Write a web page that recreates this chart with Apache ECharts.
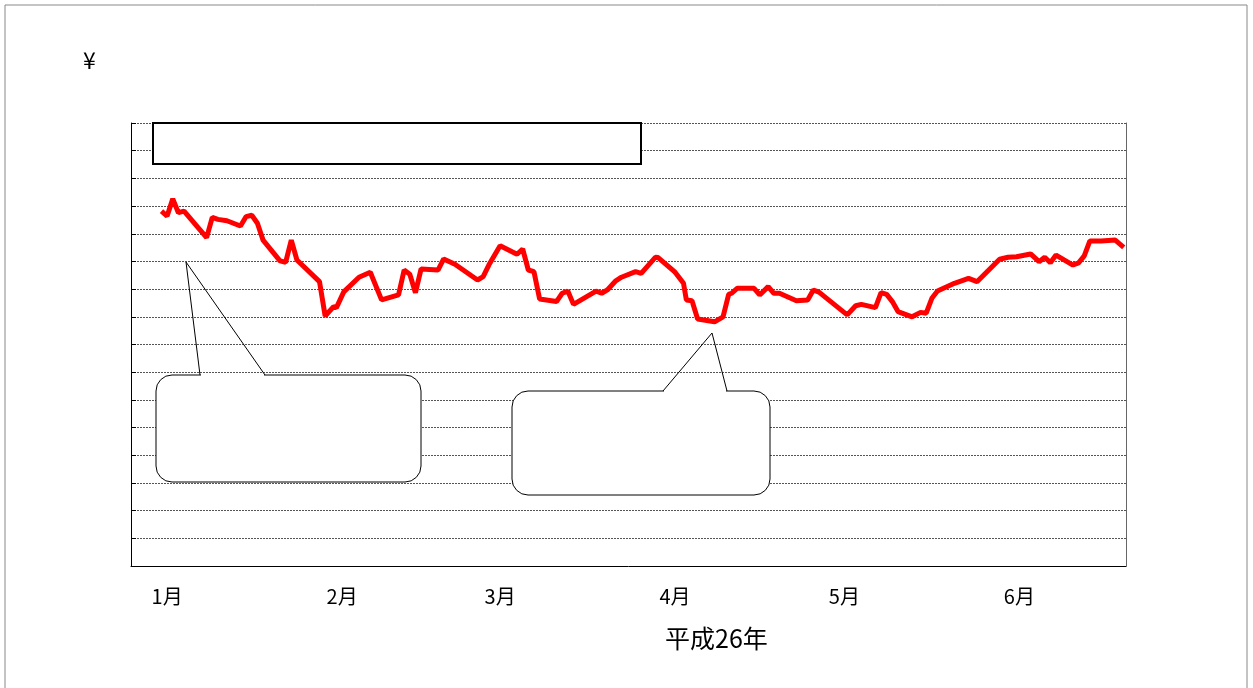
<!DOCTYPE html>
<html>
<head>
<meta charset="utf-8">
<style>
  html, body { margin: 0; padding: 0; background: #fff; }
  #chart { width: 1253px; height: 688px; }
</style>
<script src="https://cdn.jsdelivr.net/npm/echarts@6/dist/echarts.min.js"></script>
</head>
<body>
<div id="chart"></div>
<script>
// 日付（1月1日からの日数）
var days = [-1, 0, 1, 2, 3, 7, 8, 9, 10.6, 13, 14, 15, 16, 17, 20, 21, 22, 23, 27, 28,
  29.5, 30, 31.3, 34, 36, 38, 41, 42, 43, 44, 45, 48, 49, 51, 55, 56, 57, 59, 62, 63,
  64, 65, 66, 69, 70, 71, 72, 76, 77, 78, 79.5, 80.5, 83, 84, 86.5, 87, 90, 91.5, 92, 93,
  94, 97, 98.5, 99.5, 100, 101, 104, 105, 106.5, 107.5, 108.5, 111.5, 113.5, 114.5, 115.5, 120.5, 122, 123, 125.5, 126.5,
  127.5, 128.5, 129.5, 132, 133.5, 134.5, 135.5, 136.5, 139.5, 142, 143.5, 147.5, 149, 150.5, 153, 154.5, 155.5, 156.5, 157.5, 160.5,
  161.5, 162.5, 163.5, 165.5, 168, 169.5];
// 為替レート（円）
var yen = [104.82, 104.64, 105.26, 104.76, 104.82, 103.86, 104.59, 104.52, 104.47, 104.28, 104.62, 104.67, 104.38, 103.77, 103.02, 102.97, 103.77, 103.05, 102.27, 101.03,
  101.37, 101.33, 101.9, 102.43, 102.61, 101.61, 101.79, 102.69, 102.54, 101.87, 102.73, 102.69, 103.09, 102.90, 102.33, 102.45, 102.87, 103.57, 103.26, 103.45,
  102.69, 102.63, 101.64, 101.55, 101.85, 101.93, 101.45, 101.93, 101.85, 101.97, 102.30, 102.43, 102.63, 102.57, 103.15, 103.14, 102.61, 102.21, 101.61, 101.58,
  100.92, 100.82, 101.00, 101.81, 101.85, 102.03, 102.03, 101.79, 102.09, 101.85, 101.85, 101.58, 101.61, 101.97, 101.89, 101.07, 101.40, 101.45, 101.33, 101.87,
  101.81, 101.55, 101.19, 101.00, 101.16, 101.13, 101.67, 101.93, 102.21, 102.39, 102.27, 103.08, 103.15, 103.17, 103.27, 102.99, 103.15, 102.95, 103.23, 102.87,
  102.95, 103.20, 103.74, 103.74, 103.77, 103.51];
// 月ラベル
var monthDays = [0, 31, 59, 90, 120, 151];
var monthLabels = ["1月", "2月", "3月", "4月", "5月", "6月"];

var FONT = "'Noto Sans CJK JP', 'Noto Sans', sans-serif";

var chart = echarts.init(document.getElementById("chart"));
chart.setOption({
  animation: false,
  grid: { left: 131, right: 127, top: 123, bottom: 122 },
  xAxis: {
    type: "value",
    min: -6.4,
    max: 169.9,
    axisLine: { show: true, onZero: false, lineStyle: { color: "#000", width: 1 } },
    axisTick: { show: false },
    splitLine: { show: false },
    axisLabel: {
      customValues: monthDays,
      formatter: function (v) {
        return monthLabels[monthDays.indexOf(v)];
      },
      color: "#000",
      fontSize: 20,
      fontFamily: FONT,
      margin: 20
    }
  },
  yAxis: [
    {
      type: "value",
      min: 92,
      max: 108,
      interval: 1,
      axisLine: { show: true, onZero: false, lineStyle: { color: "#000", width: 1 } },
      axisTick: { show: true, inside: true, length: 5, lineStyle: { color: "#000" } },
      axisLabel: { show: false },
      splitLine: { show: true, lineStyle: { color: "#555", width: 1, type: [2, 1] } }
    },
    {
      type: "value",
      position: "right",
      min: 92,
      max: 108,
      axisLine: { show: true, onZero: false, lineStyle: { color: "#666", width: 1 } },
      axisTick: { show: false },
      axisLabel: { show: false },
      splitLine: { show: false }
    }
  ],
  series: [
    {
      type: "line",
      data: days.map(function (d, i) { return [d, yen[i]]; }),
      showSymbol: false,
      lineStyle: { color: "#ff0000", width: 5 },
      z: 5
    }
  ],
  graphic: [
    { type: "rect", shape: { x: 5, y: 5, width: 1242, height: 690 }, style: { fill: "none", stroke: "#888", lineWidth: 1 }, z: 1 },
    { type: "text", left: 83, top: 49, style: { text: "¥", fontSize: 23, fontFamily: FONT, fill: "#000" }, z: 10 },
    { type: "text", left: 665, top: 626, style: { text: "平成26年", fontSize: 25, fontFamily: FONT, fill: "#000" }, z: 10 },
    // 上部の枠
    { type: "rect", shape: { x: 153, y: 123, width: 488, height: 41 }, style: { fill: "#fff", stroke: "#000", lineWidth: 2 }, z: 10 },
    // 吹き出し1
    { type: "rect", shape: { x: 156, y: 375, width: 265, height: 107, r: 16 }, style: { fill: "#fff", stroke: "#000", lineWidth: 1 }, z: 10 },
    { type: "line", shape: { x1: 201, y1: 375, x2: 264, y2: 375 }, style: { stroke: "#fff", lineWidth: 3 }, z: 11 },
    { type: "polyline", shape: { points: [[200, 375], [186, 262], [265, 375]] }, style: { fill: "none", stroke: "#000", lineWidth: 1 }, z: 12 },
    // 吹き出し2
    { type: "rect", shape: { x: 512, y: 391, width: 258, height: 104, r: 16 }, style: { fill: "#fff", stroke: "#000", lineWidth: 1 }, z: 10 },
    { type: "line", shape: { x1: 664, y1: 391, x2: 726, y2: 391 }, style: { stroke: "#fff", lineWidth: 3 }, z: 11 },
    { type: "polyline", shape: { points: [[663, 391], [712, 333], [727, 391]] }, style: { fill: "none", stroke: "#000", lineWidth: 1 }, z: 12 }
  ]
});
</script>
</body>
</html>
